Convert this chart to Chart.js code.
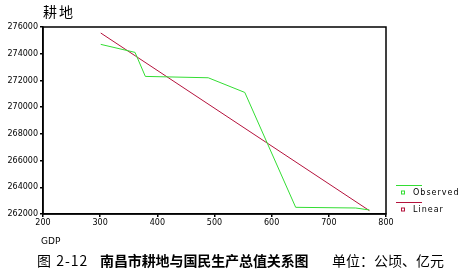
<!DOCTYPE html>
<html>
<head>
<meta charset="utf-8">
<script src="https://cdn.jsdelivr.net/npm/chart.js@4/dist/chart.umd.min.js"></script>
<style>
  body { margin: 0; background: #fff; }
  #wrap { position: relative; width: 460px; height: 272px; overflow: hidden; }
  #grafico { position: absolute; left: 0; top: 0; }
  .txt { position: absolute; white-space: nowrap; color: #000; }
  #titulo { left: 43px; top: 1px; font: 14px "Noto Sans CJK SC"; letter-spacing: 2px; }
  #ejeX { left: 41px; top: 236px; font: 9px "DejaVu Sans"; }
  .pie { top: 250px; font: 14px "Noto Sans CJK SC"; }
  #pie1 { left: 37px; letter-spacing: 1px; }
  #pie2 { left: 100px; font-weight: bold; letter-spacing: -0.1px; }
  #pie3 { left: 332px; }
</style>
</head>
<body>
<div id="wrap">
  <canvas id="grafico" width="460" height="272"></canvas>
  <div class="txt" id="titulo">耕地</div>
  <div class="txt" id="ejeX">GDP</div>
  <div class="txt pie" id="pie1">图 2-12</div>
  <div class="txt pie" id="pie2">南昌市耕地与国民生产总值关系图</div>
  <div class="txt pie" id="pie3">单位：公顷、亿元</div>
</div>
<script>
// datos
const gdp = [301, 361, 379, 489, 553, 642, 747, 771];
const gengdi = [274700, 274100, 272300, 272200, 271100, 262500, 262450, 262300];
const linealX = [301, 771];
const linealY = [275550, 262250];
const ticksY = [262000, 264000, 266000, 268000, 270000, 272000, 274000, 276000];
const ticksX = [200, 300, 400, 500, 600, 700, 800];
const leyenda = ['Observed', 'Linear'];

const verde = '#33dd33';
const rojo = '#b4123c';

const ctx = document.getElementById('grafico').getContext('2d');

// marco completo y leyenda
const marcoYLeyenda = {
  id: 'marcoYLeyenda',
  afterDraw(chart) {
    const { ctx, chartArea: a } = chart;
    ctx.save();
    ctx.strokeStyle = '#000';
    ctx.lineWidth = 1.5;
    ctx.strokeRect(a.left, a.top, a.right - a.left, a.bottom - a.top);

    const colores = [verde, rojo];
    ctx.font = '8px "DejaVu Sans"';
    ctx.letterSpacing = '1px';
    ctx.textBaseline = 'middle';
    leyenda.forEach((t, i) => {
      const y0 = 185.5 + i * 17;
      ctx.strokeStyle = colores[i];
      ctx.lineWidth = 1;
      ctx.beginPath();
      ctx.moveTo(396, y0);
      ctx.lineTo(422, y0);
      ctx.stroke();
      ctx.strokeRect(401.5, y0 + 5.5, 3, 3);
      ctx.fillStyle = '#000';
      ctx.fillText(t, 413, y0 + 7.5);
    });
    ctx.restore();
  }
};

const miGrafico = new Chart(ctx, {
  type: 'scatter',
  data: {
    datasets: [{
      label: leyenda[0],
      data: gdp.map((x, i) => ({ x: x, y: gengdi[i] })),
      borderColor: verde,
      borderWidth: 1,
      showLine: true,
      pointRadius: 0,
      tension: 0
    }, {
      label: leyenda[1],
      data: linealX.map((x, i) => ({ x: x, y: linealY[i] })),
      borderColor: rojo,
      borderWidth: 1,
      showLine: true,
      pointRadius: 0,
      tension: 0
    }]
  },
  options: {
    responsive: false,
    animation: false,
    layout: { padding: { top: 27, right: 74, left: 0, bottom: 0 } },
    plugins: {
      legend: { display: false },
      tooltip: { enabled: false }
    },
    scales: {
      x: {
        type: 'linear',
        min: 200,
        max: 800,
        afterFit: s => { s.height = 58; },
        afterBuildTicks: s => { s.ticks = ticksX.map(v => ({ value: v })); },
        border: { color: '#000', width: 1.5 },
        grid: { drawOnChartArea: false, color: '#000', tickLength: 3, lineWidth: 1.5 },
        ticks: { color: '#000', font: { family: 'DejaVu Sans', size: 8 }, padding: 1, maxRotation: 0, callback: v => String(v) }
      },
      y: {
        min: 262000,
        max: 276000,
        afterFit: s => { s.width = 43; },
        afterBuildTicks: s => { s.ticks = ticksY.map(v => ({ value: v })); },
        border: { color: '#000', width: 1.5 },
        grid: { drawOnChartArea: false, color: '#000', tickLength: 3, lineWidth: 1.5 },
        ticks: { color: '#000', font: { family: 'DejaVu Sans', size: 8 }, padding: 2, callback: v => String(v) }
      }
    }
  },
  plugins: [marcoYLeyenda]
});
</script>
</body>
</html>
